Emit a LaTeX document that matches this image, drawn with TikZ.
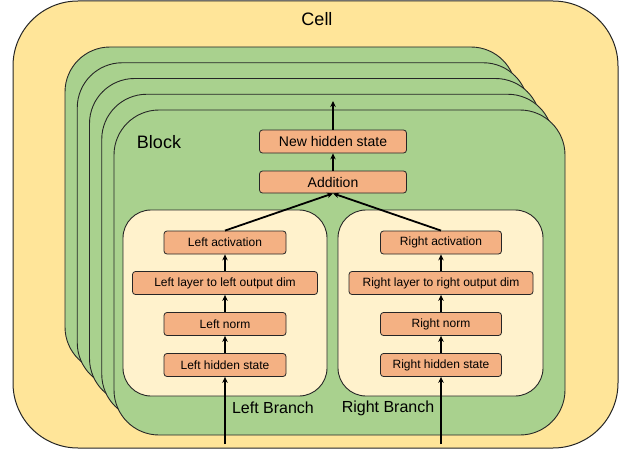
\documentclass[tikz,border=0pt]{standalone}
\usepackage{fontspec}
\setmainfont{Liberation Sans}
\usetikzlibrary{arrows.meta}
\definecolor{cellfill}{HTML}{FFE599}
\definecolor{blockfill}{HTML}{A9D18E}
\definecolor{branchfill}{HTML}{FFF2CC}
\definecolor{opfill}{HTML}{F4B183}
\definecolor{edge}{HTML}{262626}
\tikzset{
  cellbox/.style={draw=edge, line width=1pt, fill=cellfill, rounded corners=65pt},
  blockbox/.style={draw=edge, line width=0.9pt, fill=blockfill, rounded corners=45pt},
  branchbox/.style={draw=edge, line width=0.9pt, fill=branchfill, rounded corners=28pt},
  opbox/.style={draw=edge, line width=0.8pt, fill=opfill, rounded corners=3pt,
    minimum height=23pt, inner sep=0pt, text=black, font=\fontsize{12}{14}\selectfont},
  bigop/.style={opbox, font=\fontsize{14}{16}\selectfont, minimum width=147pt},
  smallop/.style={opbox, minimum width=122pt},
  wideop/.style={opbox, minimum width=185pt},
  flow/.style={line width=1.8pt, -{Stealth[length=6pt,width=5.5pt]}},
  title/.style={font=\fontsize{18}{20}\selectfont, text=black, inner sep=0pt},
  subtitle/.style={font=\fontsize{16}{18}\selectfont, text=black, inner sep=0pt},
}
\begin{document}
\begin{tikzpicture}[x=1pt, y=-1pt]
\useasboundingbox (0,0) rectangle (627,452);

% outer cell
\draw[cellbox] (13,1) rectangle (618,448);
\node[title] (celllabel) at (317,19) {Cell};

% stack of blocks, back to front
\foreach \i in {0,...,4} {
  \draw[blockbox] (65+12.25*\i, 47+15.75*\i) rectangle (516+12.25*\i, 372+15.75*\i);
}
\node[title] (blocklabel) at (159,142) {Block};

% branches
\draw[branchbox] (123,210) rectangle (327,396);
\draw[branchbox] (338,210) rectangle (543,396);
\node[subtitle] (lblabel) at (273,408) {Left Branch};
\node[subtitle] (rblabel) at (388,408) {Right Branch};

% operations
\node[bigop] (newh) at (333,141.5) {New hidden state};
\node[bigop, minimum height=22pt] (add) at (333,182) {Addition};

\node[smallop] (lact) at (225,242.5) {Left activation};
\node[wideop] (llay) at (225,283) {Left layer to left output dim};
\node[smallop] (lnorm) at (225,324) {Left norm};
\node[smallop] (lhid) at (225,365) {Left hidden state};

\node[smallop, minimum width=121pt] (ract) at (441,242.5) {Right activation};
\node[wideop, minimum width=184pt] (rlay) at (441,283) {Right layer to right output dim};
\node[smallop, minimum width=121pt] (rnorm) at (441,324) {Right norm};
\node[smallop, minimum width=121pt] (rhid) at (441,365) {Right hidden state};

% free ends of the outer connectors
\coordinate (lin) at (225,444);
\coordinate (rin) at (441,444);
\coordinate (out) at (333,101);

% connectors
\draw[flow] (lin) -- (lhid.south);
\draw[flow] (lhid.north) -- (lnorm.south);
\draw[flow] (lnorm.north) -- (llay.south);
\draw[flow] (llay.north) -- (lact.south);
\draw[flow] (rin) -- (rhid.south);
\draw[flow] (rhid.north) -- (rnorm.south);
\draw[flow] (rnorm.north) -- (rlay.south);
\draw[flow] (rlay.north) -- (ract.south);
\draw[flow] (lact.north) -- (add.south);
\draw[flow] (ract.north) -- (add.south);
\draw[flow] (add.north) -- (newh.south);
\draw[flow] (newh.north) -- (out);
\end{tikzpicture}
\end{document}
